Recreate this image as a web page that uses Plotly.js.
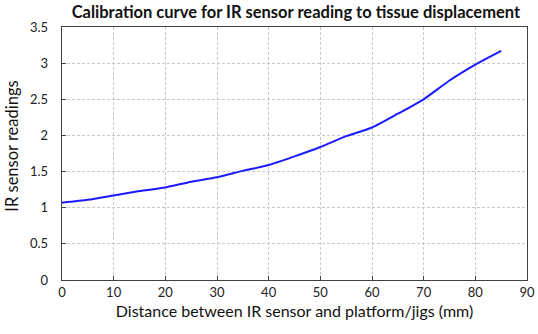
<!DOCTYPE html>
<html>
<head>
<meta charset="utf-8">
<script src="https://cdn.plot.ly/plotly-3.0.1.min.js"></script>
<style>
  html, body { margin: 0; padding: 0; background: #fff; }
  #chart { width: 538px; height: 334px; }
</style>
</head>
<body>
<div id="chart"></div>
<script>
// distance (mm) vs IR sensor reading
const distanceMm = [0, 5, 10, 15, 20, 25, 30, 35, 40, 45, 50, 55, 60, 65, 70, 75, 80, 85];
const sensorReading = [1.07, 1.11, 1.17, 1.23, 1.28, 1.36, 1.42, 1.51, 1.59, 1.71, 1.84, 1.99, 2.11, 2.30, 2.50, 2.76, 2.98, 3.17];

const xTicks = [0, 10, 20, 30, 40, 50, 60, 70, 80, 90];
const yTicks = [0, 0.5, 1, 1.5, 2, 2.5, 3, 3.5];
const yTickText = ['0', '0.5', '1', '1.5', '2', '2.5', '3', '3.5'];

const FONT = 'Lato, "Open Sans", sans-serif';

const AXIS = {
  showline: true,
  mirror: true,
  linecolor: '#404040',
  linewidth: 1.3,
  ticks: 'inside',
  ticklen: 4,
  tickcolor: '#404040',
  showgrid: true,
  gridcolor: '#c8c8c8',
  griddash: '3px,2px',
  gridwidth: 1,
  zeroline: false,
  tickfont: { family: FONT, size: 13, color: '#222' },
};

Plotly.newPlot('chart', [{
  type: 'scatter',
  mode: 'lines',
  x: distanceMm,
  y: sensorReading,
  line: { color: '#1a1aff', width: 2, shape: 'spline', smoothing: 0.6 },
  hoverinfo: 'x+y',
}], {
  width: 538,
  height: 334,
  paper_bgcolor: '#fff',
  plot_bgcolor: '#fff',
  margin: { t: 27, b: 54, l: 62, r: 11 },
  showlegend: false,
  title: {
    text: '<b>Calibration curve for IR sensor reading to tissue displacement</b>',
    font: { family: FONT, size: 16.5, color: '#111' },
    x: 0.55,
    xanchor: 'center',
    y: 0.962,
    yanchor: 'middle',
  },
  xaxis: {
    ...AXIS,
    range: [0, 90],
    tickvals: xTicks,
    ticktext: xTicks.map(String),
    title: { text: 'Distance between IR sensor and platform/jigs (mm)', font: { family: FONT, size: 16, color: '#111' }, standoff: 7 },
  },
  yaxis: {
    ...AXIS,
    range: [0, 3.5],
    tickvals: yTicks,
    ticktext: yTickText,
    ticklabelstandoff: 10,
  },
  // y title drawn as annotation so its spot can be nudged like the original
  annotations: [{
    text: 'IR sensor readings',
    xref: 'paper', yref: 'paper',
    x: -0.108, y: 0.53,
    xanchor: 'center', yanchor: 'middle',
    textangle: -90,
    showarrow: false,
    font: { family: FONT, size: 16.5, color: '#111' },
  }],
}, { displayModeBar: false, staticPlot: true });
</script>
</body>
</html>
